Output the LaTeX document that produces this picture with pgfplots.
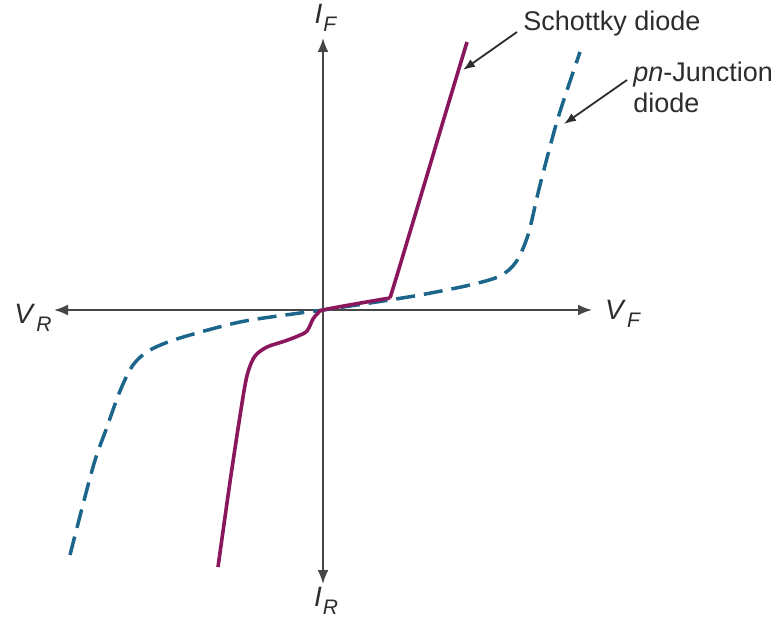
\documentclass[border=0pt]{standalone}
\usepackage{pgfplots}
\pgfplotsset{compat=1.18}
\usepackage{fontspec}
\setmainfont{Liberation Sans}
\usetikzlibrary{arrows.meta}
\definecolor{schottky}{RGB}{138,22,92}
\definecolor{pnjunc}{RGB}{28,102,140}
\definecolor{axisgray}{RGB}{70,70,70}
\definecolor{txt}{RGB}{45,45,45}
\newcommand{\qty}[2]{\textit{#1}\kern0.5pt\raisebox{-0.5ex}{\fontsize{10.5}{12}\selectfont\textit{#2}}}
\begin{document}
\begin{tikzpicture}
\begin{axis}[
  at={(0,0)}, anchor=south west,
  scale only axis, width=387pt, height=309.5pt,
  xmin=0, xmax=774, ymin=0, ymax=619, y dir=reverse,
  hide axis, clip=false,
]
% voltage and current axes
\draw[axisgray, line width=1pt, {Latex[length=7pt,width=5.5pt]}-{Latex[length=7pt,width=5.5pt]}]
  (axis cs:54,310) -- (axis cs:592,310);
\draw[axisgray, line width=1pt, {Latex[length=7pt,width=5.5pt]}-{Latex[length=7pt,width=5.5pt]}]
  (axis cs:323,38) -- (axis cs:323,584);
% pn-junction characteristic
\addplot[pnjunc, line width=1.75pt, dash pattern=on 9.5pt off 4.5pt, smooth, tension=0.5] coordinates {
  (70,555) (93,467) (107,427) (120,391) (133,365) (150,350) (180,338) (240,322) (300,313) (323,310)
  (370,303) (420,295) (470,285) (500,276) (516,262) (528,235) (540,185) (558,118) (580,52)
};
% Schottky characteristic: reverse branch and knee
\addplot[schottky, line width=1.8pt, smooth, tension=0.5] coordinates {
  (218,567) (231,475) (243,397) (248,372) (255,356) (267,347) (285,341) (298,336) (307,331) (313,319) (318,313) (323,310)
  (355,304) (390,298)
};
% Schottky characteristic: forward branch
\addplot[schottky, line width=1.8pt, line join=round, smooth, tension=0.3] coordinates {
  (390,298) (398,272) (425,182) (445,115) (467,42)
};
% callouts
\draw[txt, line width=0.9pt, -{Latex[length=6pt,width=4.5pt]}] (axis cs:517,32) -- (axis cs:463,70);
\draw[txt, line width=0.9pt, -{Latex[length=6pt,width=4.5pt]}] (axis cs:627,80) -- (axis cs:564,124);
\node[txt, anchor=west, inner sep=0pt, font=\fontsize{13.5}{16}\selectfont] at (axis cs:523,24) {Schottky diode};
\node[txt, anchor=west, inner sep=0pt, align=left, font=\fontsize{13.5}{15.5}\selectfont] at (axis cs:633,87) {\textit{pn}-Junction\\diode};
% axis names
\node[txt, inner sep=0pt, font=\fontsize{14}{16}\selectfont] at (axis cs:33,318) {\qty{V}{R}};
\node[txt, inner sep=0pt, font=\fontsize{14}{16}\selectfont] at (axis cs:623,314) {\qty{V}{F}};
\node[txt, inner sep=0pt, font=\fontsize{14}{16}\selectfont] at (axis cs:326,18) {\qty{I}{F}};
\node[txt, inner sep=0pt, font=\fontsize{14}{16}\selectfont] at (axis cs:326,601) {\qty{I}{R}};
\end{axis}
\pgfresetboundingbox
\path[use as bounding box] (0,0) rectangle (387pt,309.5pt);
\end{tikzpicture}
\end{document}
